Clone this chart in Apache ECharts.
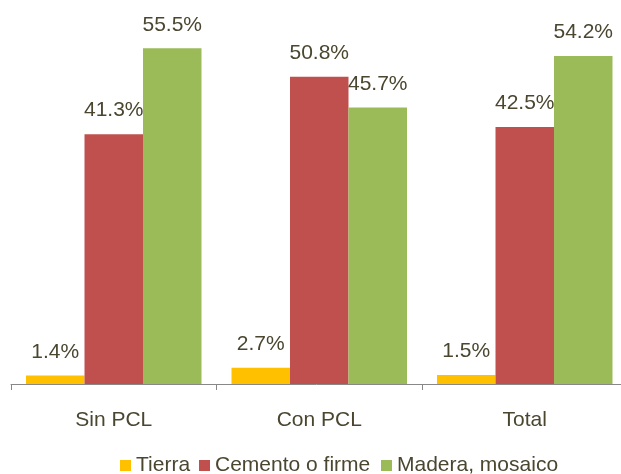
<!DOCTYPE html>
<html>
<head>
<meta charset="utf-8">
<script src="https://cdn.jsdelivr.net/npm/echarts@6/dist/echarts.min.js"></script>
<style>
html,body{margin:0;padding:0;background:#fff;}
#chart{width:621px;height:474px;}
</style>
</head>
<body>
<div id="chart"></div>
<script>
const categories = ['Sin PCL', 'Con PCL', 'Total'];
const seriesNames = ['Tierra', 'Cemento o firme', 'Madera, mosaico'];
const tierra = [1.4, 2.7, 1.5];
const cemento = [41.3, 50.8, 42.5];
const madera = [55.5, 45.7, 54.2];
const colors = ['#FFC000', '#C0504D', '#9BBB59'];
const textColor = '#4A4630';
const font = 'Liberation Sans, Arial, sans-serif';
const legendLefts = [120, 199, 381];

const chart = echarts.init(document.getElementById('chart'), null, {renderer: 'canvas'});
const values = [tierra, cemento, madera];
chart.setOption({
  animation: false,
  backgroundColor: '#ffffff',
  grid: {left: 11, width: 616.5, top: 21, bottom: 90, containLabel: false, outerBoundsMode: 'none'},
  legend: seriesNames.map((n, i) => ({
    data: [n],
    left: legendLefts[i],
    top: 455,
    padding: 0,
    itemWidth: 11,
    itemHeight: 11,
    icon: 'rect',
    textStyle: {color: textColor, fontSize: 21, fontFamily: font}
  })),
  xAxis: {
    type: 'category',
    data: categories,
    axisLine: {lineStyle: {color: '#888888', width: 1}},
    axisTick: {show: true, length: 6, lineStyle: {color: '#888888'}},
    axisLabel: {color: textColor, fontSize: 21, fontFamily: font, margin: 26}
  },
  yAxis: {
    type: 'value', min: 0, max: 60, show: false,
    splitLine: {show: false}
  },
  series: values.map((v, i) => ({
    name: seriesNames[i],
    type: 'bar',
    data: v,
    barGap: '0%',
    barCategoryGap: '14.6%',
    itemStyle: {color: colors[i]},
    label: {
      show: true,
      position: 'top',
      distance: 13,
      color: textColor,
      fontSize: 21,
      fontFamily: font,
      formatter: p => p.value.toFixed(1) + '%'
    }
  }))
});
</script>
</body>
</html>
